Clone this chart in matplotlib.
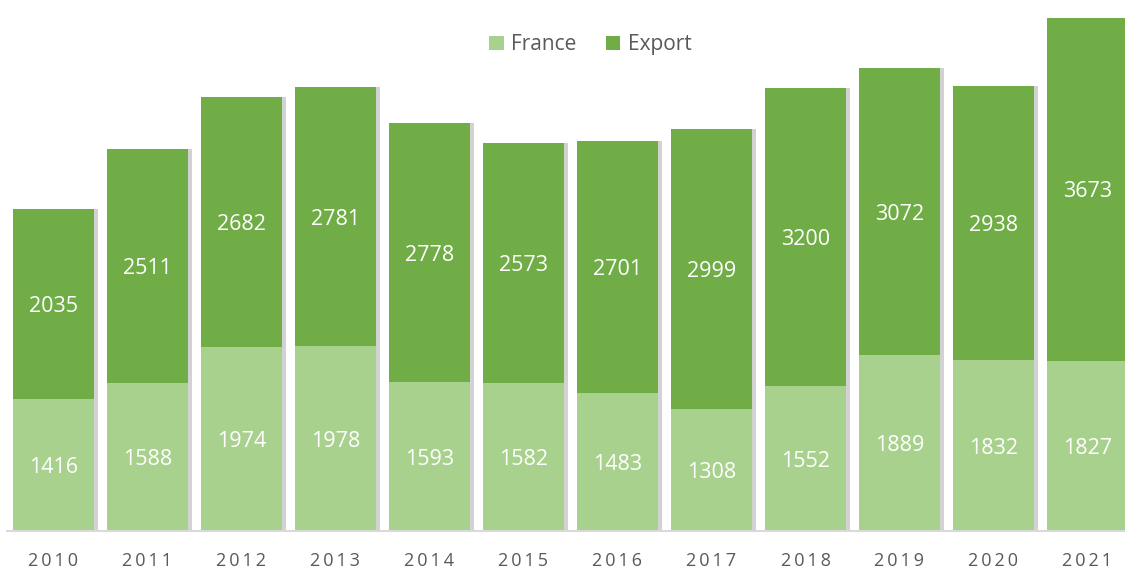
import matplotlib
matplotlib.use("Agg")
import matplotlib.pyplot as plt
import matplotlib.patheffects as pe
from matplotlib.patches import Patch

years = ["2010", "2011", "2012", "2013", "2014", "2015", "2016", "2017", "2018", "2019", "2020", "2021"]
france = [1416, 1588, 1974, 1978, 1593, 1582, 1483, 1308, 1552, 1889, 1832, 1827]
export = [2035, 2511, 2682, 2781, 2778, 2573, 2701, 2999, 3200, 3072, 2938, 3673]

C_FR = "#A9D18E"
C_EX = "#70AD47"

plt.rcParams['font.family'] = ['Open Sans', 'DejaVu Sans']

W, H = 1125, 568
fig = plt.figure(figsize=(W / 100, H / 100), dpi=100)
left_px, base_px = 6.5, 37
ax = fig.add_axes([left_px / W, base_px / H, (W - left_px) / W, (H - base_px) / H])
slot = 94.0
ax.set_xlim(-0.5, (W - left_px) / slot - 0.5)
ax.set_ylim(0, (H - base_px) * 10.72)

x = list(range(len(years)))
b1 = ax.bar(x, france, width=0.865, color=C_FR, zorder=2)
b2 = ax.bar(x, export, width=0.865, bottom=france, color=C_EX, zorder=2)
shadow = [pe.SimplePatchShadow(offset=(3, 0), shadow_rgbFace="#7f7f7f", alpha=0.35), pe.Normal()]
for b in list(b1) + list(b2):
    b.set_path_effects(shadow)

for i in x:
    ax.text(i, france[i] / 2, str(france[i]), ha="center", va="center_baseline", color="white", fontsize=15.5, zorder=3)
    ax.text(i, france[i] + export[i] / 2, str(export[i]), ha="center", va="center_baseline", color="white", fontsize=15.5, zorder=3)

for s in ["top", "right", "left"]:
    ax.spines[s].set_visible(False)
ax.spines["bottom"].set_color("#D9D9D9")
ax.spines["bottom"].set_linewidth(1.5)
ax.set_yticks([])
ax.set_xticks(x)
ax.set_xticklabels(["\u2009".join(y) for y in years], color="#595959", fontsize=13)
ax.tick_params(axis="x", length=0, pad=15)

handles = [Patch(facecolor=C_FR, label="France"), Patch(facecolor=C_EX, label="Export")]
leg = ax.legend(handles=handles, loc="center", bbox_to_anchor=(0.522, 0.916), ncol=2, frameon=False,
                fontsize=15, handlelength=0.7, handleheight=0.7, columnspacing=1.4,
                handletextpad=0.35, labelcolor="#595959")

fig.savefig("out.png", dpi=100)
